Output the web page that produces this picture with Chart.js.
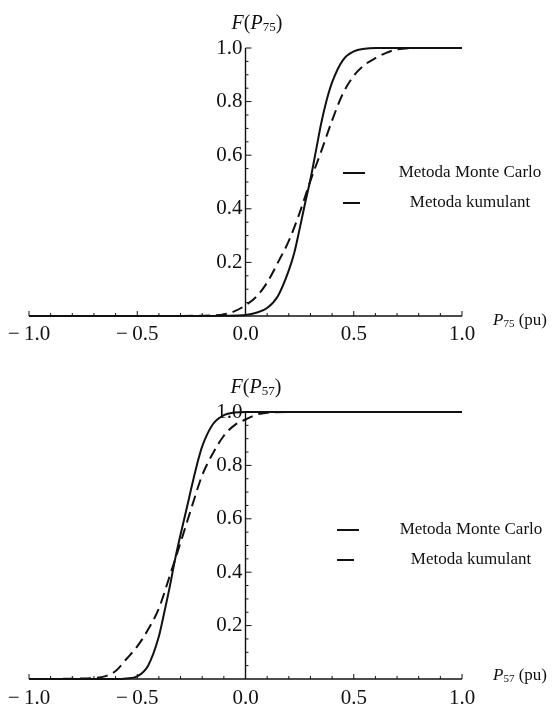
<!DOCTYPE html>
<html><head><meta charset="utf-8">
<script src="https://cdn.jsdelivr.net/npm/chart.js@4"></script>
<style>html,body{margin:0;padding:0;background:#fff}canvas{display:block}</style>
</head><body>
<canvas id="c1" width="560" height="353"></canvas>
<canvas id="c2" width="560" height="354"></canvas>
<script>
// ---------- data ----------
const seriesLabels = ['Metoda Monte Carlo', 'Metoda kumulant'];
const xTickValues = [-1, -0.5, 0, 0.5, 1];
const xTickLabels = ['\u2212\u20091.0', '\u2212\u20090.5', '0.0', '0.5', '1.0'];
const yTickValues = [0.2, 0.4, 0.6, 0.8, 1.0];
const yTickLabels = ['0.2', '0.4', '0.6', '0.8', '1.0'];

// P75 : Monte Carlo (solid)
const p75X_mc = [-1.0, -0.5, -0.2, -0.1, 0, 0.05, 0.1, 0.15, 0.2, 0.225, 0.25, 0.275, 0.3, 0.325, 0.35, 0.375, 0.4, 0.45, 0.5, 0.55, 0.6, 0.7, 1.0];
const p75F_mc = [0, 0, 0, 0.001, 0.004, 0.012, 0.03, 0.075, 0.17, 0.235, 0.325, 0.42, 0.51, 0.615, 0.72, 0.806, 0.872, 0.955, 0.987, 0.997, 1.0, 1.0, 1.0];
// P75 : cumulant (dashed)
const p75X_cu = [-1.0, -0.5, -0.2, -0.1, -0.05, 0, 0.05, 0.1, 0.15, 0.2, 0.25, 0.3, 0.35, 0.4, 0.45, 0.5, 0.55, 0.6, 0.65, 0.7, 0.8, 1.0];
const p75F_cu = [0, 0, 0.001, 0.006, 0.018, 0.04, 0.072, 0.125, 0.2, 0.28, 0.385, 0.505, 0.615, 0.73, 0.83, 0.896, 0.937, 0.962, 0.982, 0.995, 1.0, 1.0];

// P57 : Monte Carlo (solid)
const p57X_mc = [-1.0, -0.7, -0.6, -0.55, -0.5, -0.45, -0.4, -0.375, -0.35, -0.325, -0.3, -0.275, -0.25, -0.225, -0.2, -0.15, -0.1, -0.05, 0, 0.5, 1.0];
const p57F_mc = [0, 0, 0, 0.002, 0.01, 0.05, 0.16, 0.25, 0.345, 0.449, 0.541, 0.627, 0.716, 0.80, 0.871, 0.955, 0.988, 0.998, 1.0, 1.0, 1.0];
// P57 : cumulant (dashed)
const p57X_cu = [-1.0, -0.8, -0.7, -0.65, -0.6, -0.55, -0.5, -0.45, -0.4, -0.35, -0.3, -0.25, -0.2, -0.15, -0.1, -0.05, 0, 0.05, 0.1, 0.2, 1.0];
const p57F_cu = [0, 0.001, 0.004, 0.01, 0.03, 0.075, 0.122, 0.185, 0.265, 0.386, 0.511, 0.64, 0.763, 0.846, 0.911, 0.951, 0.972, 0.99, 0.997, 1.0, 1.0];

// ---------- helpers ----------
const SERIF = '"Liberation Serif", "DejaVu Serif", serif';
function zip(xs, ys) { return xs.map((x, i) => ({ x: x, y: ys[i] })); }

function drawRich(ctx, segs, x, y, align) {
  let w = 0;
  segs.forEach(s => { ctx.font = s.font; w += ctx.measureText(s.t).width; });
  let cx = align === 'center' ? x - w / 2 : (align === 'right' ? x - w : x);
  ctx.textAlign = 'left';
  ctx.textBaseline = 'middle';
  segs.forEach(s => {
    ctx.font = s.font;
    ctx.fillText(s.t, cx, y + (s.dy || 0));
    cx += ctx.measureText(s.t).width;
  });
}

function makeAxesPlugin(opts) {
  return {
    id: 'mmaAxes',
    beforeDatasetsDraw(chart) {
      const ctx = chart.ctx;
      const xs = chart.scales.x, ys = chart.scales.y;
      const x0 = xs.getPixelForValue(0), y0 = ys.getPixelForValue(0);
      ctx.save();
      ctx.strokeStyle = '#111';
      ctx.fillStyle = '#111';
      ctx.lineWidth = 1.4;
      // x axis
      ctx.beginPath();
      ctx.moveTo(xs.getPixelForValue(-1), y0);
      ctx.lineTo(xs.getPixelForValue(1), y0);
      ctx.stroke();
      ctx.lineWidth = 1;
      for (let i = -10; i <= 10; i++) {
        const px = xs.getPixelForValue(i / 10);
        const len = (i % 5 === 0) ? 5 : 3;
        ctx.beginPath();
        ctx.moveTo(px, y0);
        ctx.lineTo(px, y0 - len);
        ctx.stroke();
      }
      // y axis
      ctx.lineWidth = 1.4;
      ctx.beginPath();
      ctx.moveTo(x0, y0);
      ctx.lineTo(x0, ys.getPixelForValue(1));
      ctx.stroke();
      ctx.lineWidth = 1;
      for (let i = 1; i <= 20; i++) {
        const py = ys.getPixelForValue(i / 20);
        const len = (i % 4 === 0) ? 6 : 3;
        ctx.beginPath();
        ctx.moveTo(x0, py);
        ctx.lineTo(x0 + len, py);
        ctx.stroke();
      }
      // tick labels
      ctx.font = '21px ' + SERIF;
      ctx.textBaseline = 'middle';
      ctx.textAlign = 'center';
      xTickValues.forEach((v, i) => {
        ctx.fillText(xTickLabels[i], xs.getPixelForValue(v), y0 + opts.xLabelOffset);
      });
      ctx.textAlign = 'right';
      yTickValues.forEach((v, i) => {
        ctx.fillText(yTickLabels[i], x0 - 3, ys.getPixelForValue(v));
      });
      // axis titles
      const big = '20px ' + SERIF, bigI = 'italic 20px ' + SERIF, sub = '13px ' + SERIF;
      drawRich(ctx, [
        { t: 'F', font: bigI }, { t: '(', font: big }, { t: 'P', font: bigI },
        { t: opts.sub, font: sub, dy: 4 }, { t: ')', font: big }
      ], opts.yTitleX, opts.yTitleY, 'center');
      drawRich(ctx, [
        { t: 'P', font: 'italic 17px ' + SERIF }, { t: opts.sub, font: '11px ' + SERIF, dy: 3 },
        { t: ' (pu)', font: '17px ' + SERIF }
      ], opts.xTitleX, opts.xTitleY, 'left');
      // legend
      ctx.lineWidth = 2;
      ctx.strokeStyle = '#111';
      ctx.beginPath();
      ctx.moveTo(opts.legX, opts.legY1); ctx.lineTo(opts.legX + opts.legW1, opts.legY1);
      ctx.moveTo(opts.legX, opts.legY2); ctx.lineTo(opts.legX + opts.legW2, opts.legY2);
      ctx.stroke();
      ctx.font = '17px ' + SERIF;
      ctx.textAlign = 'center';
      ctx.textBaseline = 'middle';
      ctx.fillText(chart.data.datasets[0].label, opts.legTextX, opts.legY1);
      ctx.fillText(chart.data.datasets[1].label, opts.legTextX, opts.legY2);
      ctx.restore();
    }
  };
}

function makeChart(id, mc, cu, padding, opts) {
  return new Chart(document.getElementById(id), {
    type: 'scatter',
    data: {
      datasets: [
        { label: seriesLabels[0], data: mc, showLine: true, borderColor: '#111', borderWidth: 2,
          pointRadius: 0, cubicInterpolationMode: 'monotone', clip: false },
        { label: seriesLabels[1], data: cu, showLine: true, borderColor: '#111', borderWidth: 2,
          borderDash: [11, 6], pointRadius: 0, cubicInterpolationMode: 'monotone', clip: false }
      ]
    },
    options: {
      responsive: false,
      animation: false,
      layout: { padding: padding },
      plugins: { legend: { display: false }, tooltip: { enabled: false } },
      scales: {
        x: { type: 'linear', min: -1, max: 1, display: false },
        y: { type: 'linear', min: 0, max: 1, display: false }
      }
    },
    plugins: [makeAxesPlugin(opts)]
  });
}

makeChart('c1', zip(p75X_mc, p75F_mc), zip(p75X_cu, p75F_cu),
  { left: 29, right: 98, top: 48, bottom: 37 },
  { sub: '75', xLabelOffset: 18, yTitleX: 257, yTitleY: 24, xTitleX: 493, xTitleY: 321,
    legX: 343, legW1: 22, legW2: 17, legY1: 173, legY2: 203, legTextX: 470 });

makeChart('c2', zip(p57X_mc, p57F_mc), zip(p57X_cu, p57F_cu),
  { left: 29, right: 98, top: 59, bottom: 28 },
  { sub: '57', xLabelOffset: 19, yTitleX: 256, yTitleY: 35, xTitleX: 493, xTitleY: 323,
    legX: 337, legW1: 22, legW2: 17, legY1: 177, legY2: 207, legTextX: 471 });
</script>
</body></html>
